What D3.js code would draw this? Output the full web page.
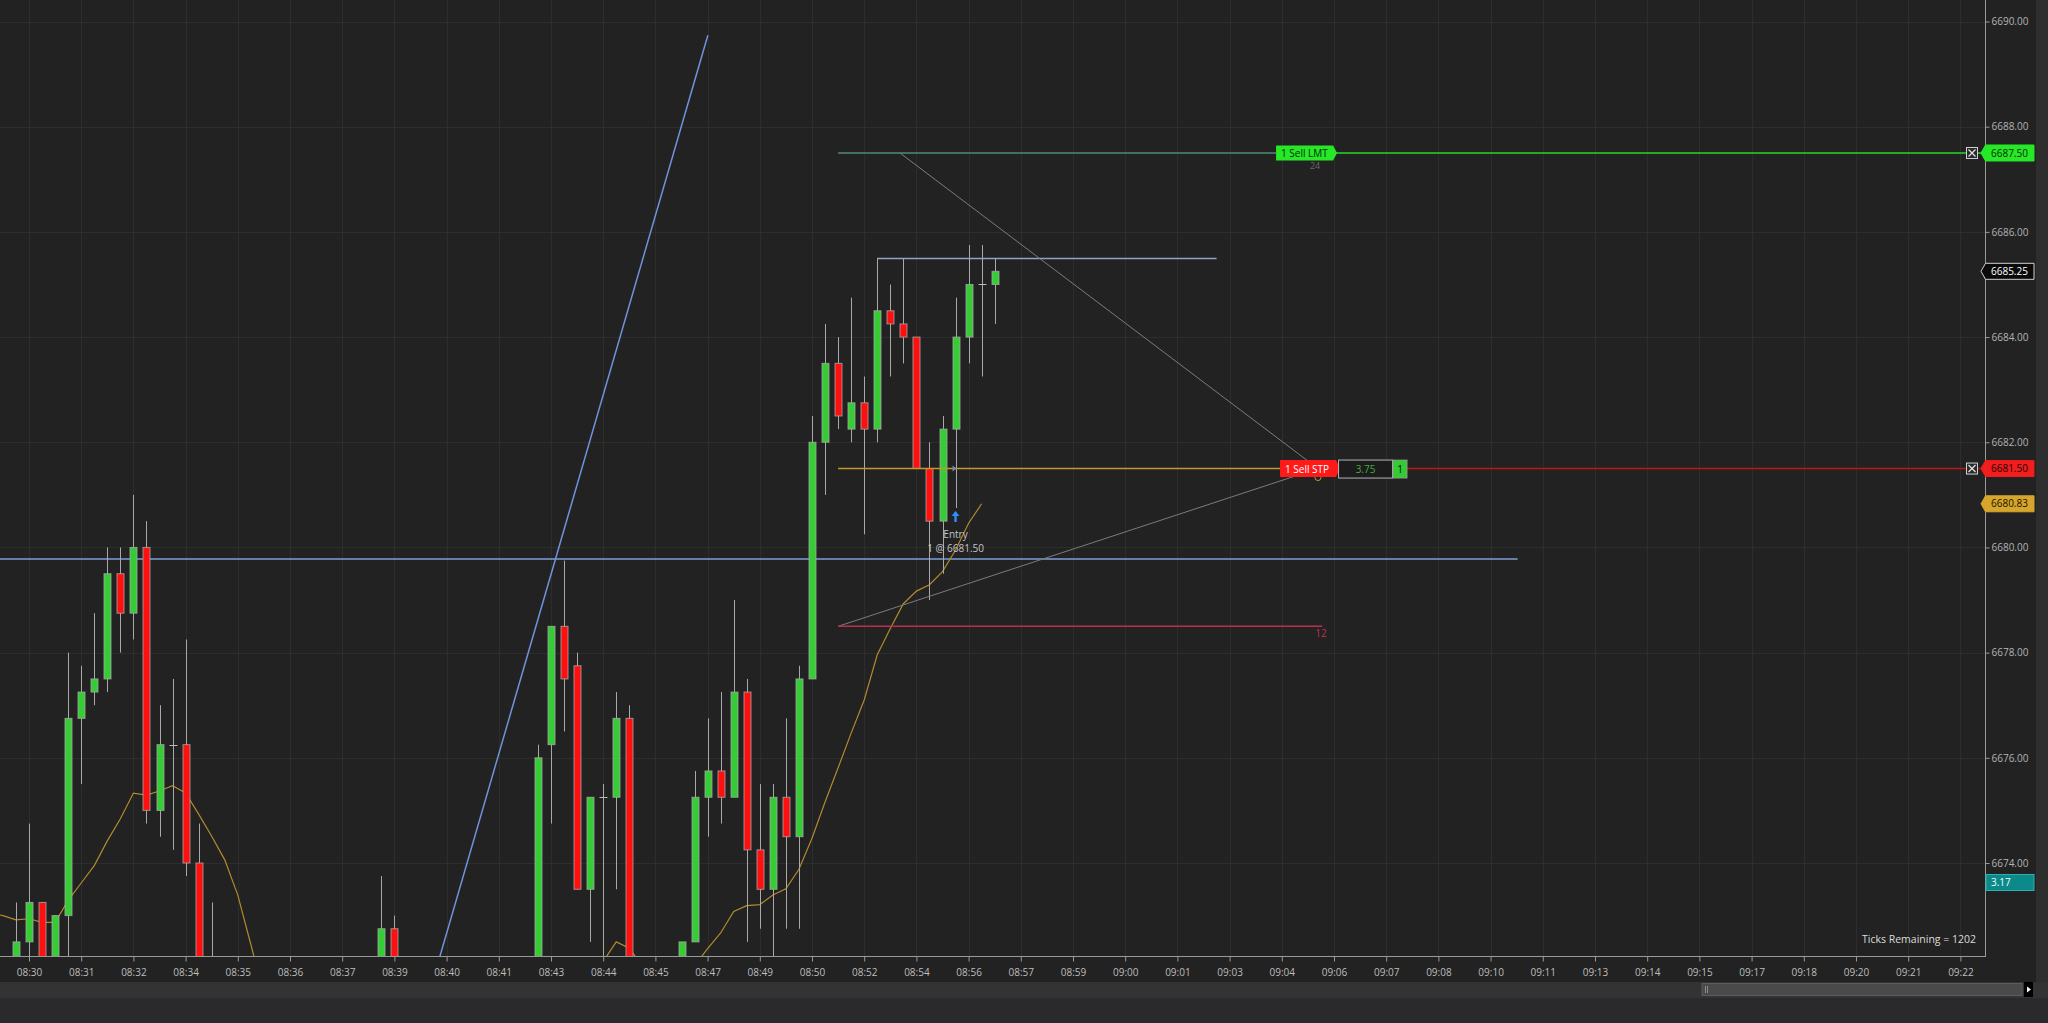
<!DOCTYPE html>
<html><head><meta charset="utf-8">
<script src="https://cdn.jsdelivr.net/npm/d3@7"></script>
<style>html,body{margin:0;padding:0;background:#2a2a2d;overflow:hidden}</style>
</head><body>
<svg id="c" width="2048" height="1023"></svg>
<script>
// ---------- DATA ----------
const tickLabels = ["08:30","08:31","08:32","08:34","08:35","08:36","08:37","08:39","08:40","08:41","08:43","08:44","08:45","08:47","08:49","08:50","08:52","08:54","08:56","08:57","08:59","09:00","09:01","09:03","09:04","09:06","09:07","09:08","09:10","09:11","09:13","09:14","09:15","09:17","09:18","09:20","09:21","09:22"];
const priceTicks = [6674,6676,6678,6680,6682,6684,6686,6688,6690];
const N = null;
const barStart = -1; // bar index of first entry
const opens = [6672.00,6672.50,6673.25,6671.75,6673.00,6676.75,6677.25,6677.50,6679.50,6678.75,6680.00,6675.00,6676.25,6676.25,6674.00,6672.00,
  N,N,N,N,N,N,N,N,N,N,N,N,
  6672.00,6672.75,
  N,N,N,N,N,N,N,N,N,N,
  6671.75,6676.25,6678.50,6677.75,6673.50,6675.25,6675.25,6676.75,
  N,N,N,
  6671.75,6672.50,6675.25,6675.75,6675.25,6677.25,6674.25,6673.50,6675.25,6674.50,6677.50,
  6682.00,6683.50,6682.25,6682.75,6682.25,6684.50,6684.25,6684.00,6681.50,6680.50,6682.25,6684.00,6685.00,6685.00];
const highs = [6673.25,6674.75,6673.25,6673.00,6678.00,6677.75,6678.75,6680.00,6680.00,6681.00,6680.50,6677.00,6677.50,6678.25,6674.75,6673.25,
  N,N,N,N,N,N,N,N,N,N,N,N,
  6673.75,6673.00,
  N,N,N,N,N,N,N,N,N,N,
  6676.25,6678.50,6679.75,6678.00,6675.25,6675.50,6677.25,6677.00,
  N,N,N,
  6672.50,6675.75,6676.75,6677.25,6679.00,6677.50,6675.50,6675.50,6676.75,6677.75,6682.50,
  6684.25,6684.00,6684.75,6683.25,6685.50,6685.00,6685.50,6684.00,6682.00,6682.50,6684.75,6685.75,6685.75,6685.50];
const lows = [6671.50,6672.00,6671.50,6671.50,6671.75,6675.50,6677.00,6677.25,6678.00,6678.25,6674.75,6674.50,6674.25,6673.75,6671.50,6671.25,
  N,N,N,N,N,N,N,N,N,N,N,N,
  6671.75,6671.50,
  N,N,N,N,N,N,N,N,N,N,
  6671.50,6674.75,6676.50,6673.50,6672.50,6671.75,6673.50,6671.50,
  N,N,N,
  6671.50,6672.50,6674.50,6674.75,6675.25,6672.50,6672.75,6672.00,6672.75,6672.75,6677.50,
  6681.00,6682.25,6682.00,6680.25,6682.00,6683.25,6683.50,6681.50,6679.00,6679.50,6680.75,6683.50,6683.25,6684.25];
const closes = [6672.50,6673.25,6671.75,6673.00,6676.75,6677.25,6677.50,6679.50,6678.75,6680.00,6675.00,6676.25,6676.25,6674.00,6671.75,6671.50,
  N,N,N,N,N,N,N,N,N,N,N,N,
  6672.75,6671.75,
  N,N,N,N,N,N,N,N,N,N,
  6676.00,6678.50,6677.50,6673.50,6675.25,6675.25,6676.75,6671.75,
  N,N,N,
  6672.50,6675.25,6675.75,6675.25,6677.25,6674.25,6673.50,6675.25,6674.50,6677.50,6682.00,
  6683.50,6682.50,6682.75,6682.25,6684.50,6684.25,6684.00,6681.50,6680.50,6682.25,6684.00,6685.00,6685.00,6685.25];
const smaStart = -3;
const smaValues = [6673.05,6673.00,6672.92,6672.94,6672.87,6672.87,6673.29,6673.62,6673.95,6674.42,6674.84,6675.33,6675.29,6675.37,6675.47,6675.33,6674.93,6674.51,6674.06,6673.39,6672.45,6671.50,
  N,N,N,N,N,N,N,N,N,N,N,N,N,N,N,N,N,N,N,N,N,N,N,N,
  6671.90,6672.13,6672.50,6672.38,6672.04,
  N,N,
  6671.80,6672.05,6672.37,6672.67,6673.08,6673.19,6673.21,6673.39,6673.51,6673.88,6674.47,6675.16,6675.81,6676.47,6677.10,6677.96,6678.46,6678.93,6679.17,6679.29,6679.54,6679.95,6680.46,6680.83];

// drawing objects (bar index, price)
const blueLevel = {price: 6679.78, from: -3, to: 114.07};
const blueRay = [[31.47, 6672.21],[52.02, 6689.74]];
const swingHigh = {price: 6685.50, from: 65, to: 91};
const targetPrice = 6687.50, stopPrice = 6681.50, riskPrice = 6678.50;
const orderLineStart = 62;
const riskLineEnd = 99.1;
const triangleUpper = [[66.74, 6687.50],[98.77, 6681.50]];
const triangleLower = [[62.0, 6678.50],[98.77, 6681.50]];
const orderLabelIdx = 95.56;
const entryBar = 71;
const entryPrice = 6681.50;
const lastPrice = 6685.25, smaLast = 6680.83;
const pnlValue = "3.75", positionQty = "1", riskTicks = "12", targetTicks = "24";
const rangeValue = "3.17";
const ticksRemaining = 1202;

// ---------- CHART ----------
const W = 2048, H = 1023, plotRight = 1985, plotBottom = 956;
const font = "'Open Sans','Noto Sans',sans-serif";
const svg = d3.select("#c");
const x = d3.scaleLinear().domain([0, 148]).range([29, 1960.4]);
const y = d3.scaleLinear().domain([6674, 6690]).range([863, 21.5]);
const px = v => Math.round(v) + 0.5;

svg.append("rect").attr("width", W).attr("height", H).attr("fill", "#2a2a2d");
svg.append("rect").attr("x", 0).attr("y", 0).attr("width", 2036).attr("height", 982).attr("fill", "#222222");
svg.append("rect").attr("x", 2036).attr("y", 0).attr("width", 12).attr("height", 982).attr("fill", "#2e2e2e");
svg.append("rect").attr("x", 0).attr("y", 982).attr("width", W).attr("height", 16).attr("fill", "#333333");

// grid
const tickIdx = tickLabels.map((d, i) => i * 4);
svg.append("g").selectAll("line").data(tickIdx).join("line")
  .attr("x1", d => px(x(d))).attr("x2", d => px(x(d))).attr("y1", 0).attr("y2", plotBottom)
  .attr("stroke", "#2d2d2d").attr("stroke-width", 1);
svg.append("g").selectAll("line").data(priceTicks).join("line")
  .attr("x1", 0).attr("x2", plotRight).attr("y1", d => px(y(d))).attr("y2", d => px(y(d)))
  .attr("stroke", "#2d2d2d").attr("stroke-width", 1);

svg.append("defs").append("clipPath").attr("id", "plot")
  .append("rect").attr("x", 0).attr("y", 0).attr("width", plotRight).attr("height", plotBottom);
const g = svg.append("g").attr("clip-path", "url(#plot)");

// blue level + ray
g.append("line").attr("x1", x(blueLevel.from)).attr("x2", x(blueLevel.to))
  .attr("y1", y(blueLevel.price)).attr("y2", y(blueLevel.price))
  .attr("stroke", "#7d9fd8").attr("stroke-width", 1.5);
g.append("line").attr("x1", x(blueRay[0][0])).attr("y1", y(blueRay[0][1]))
  .attr("x2", x(blueRay[1][0])).attr("y2", y(blueRay[1][1]))
  .attr("stroke", "#6f93dc").attr("stroke-width", 1.5);

// SMA
const smaData = smaValues.map((v, i) => ({i: smaStart + i, v}));
g.append("path").datum(smaData)
  .attr("d", d3.line().defined(d => d.v !== null).x(d => x(d.i)).y(d => y(d.v)))
  .attr("fill", "none").attr("stroke", "#b08a2e").attr("stroke-width", 1.2);

// candles
const bars = opens.map((o, i) => ({i: barStart + i, o, h: highs[i], l: lows[i], c: closes[i]})).filter(d => d.o !== null);
const cg = g.append("g");
bars.forEach(d => {
  const cx = px(x(d.i));
  cg.append("line").attr("x1", cx).attr("x2", cx).attr("y1", y(d.h)).attr("y2", y(d.l))
    .attr("stroke", "#a9a9a9").attr("stroke-width", 1);
  if (d.o === d.c) {
    cg.append("line").attr("x1", cx - 4).attr("x2", cx + 4).attr("y1", px(y(d.o))).attr("y2", px(y(d.o)))
      .attr("stroke", "#bdbdbd").attr("stroke-width", 1);
  } else {
    const top = y(Math.max(d.o, d.c)), bot = y(Math.min(d.o, d.c));
    cg.append("rect").attr("x", cx - 3.5).attr("width", 7).attr("y", top).attr("height", bot - top)
      .attr("fill", d.c > d.o ? "#36cc36" : "#ff1010")
      .attr("stroke", "#a8a8a8").attr("stroke-opacity", 0.8).attr("stroke-width", 1);
  }
});

// swing high line
g.append("line").attr("x1", x(swingHigh.from)).attr("x2", x(swingHigh.to))
  .attr("y1", px(y(swingHigh.price))).attr("y2", px(y(swingHigh.price)))
  .attr("stroke", "#8fa6c8").attr("stroke-width", 1.3);

// triangle lines
[triangleUpper, triangleLower].forEach(seg => {
  g.append("line").attr("x1", x(seg[0][0])).attr("y1", y(seg[0][1]))
    .attr("x2", x(seg[1][0])).attr("y2", y(seg[1][1]))
    .attr("stroke", "#7c7c7c").attr("stroke-width", 1);
});

// order lines
const labelX = x(orderLabelIdx);
g.append("line").attr("x1", x(orderLineStart)).attr("x2", labelX)
  .attr("y1", y(targetPrice)).attr("y2", y(targetPrice)).attr("stroke", "#4f8c72").attr("stroke-width", 1.3);
g.append("line").attr("x1", labelX + 60).attr("x2", plotRight)
  .attr("y1", y(targetPrice)).attr("y2", y(targetPrice)).attr("stroke", "#22dd22").attr("stroke-width", 1.6);
g.append("line").attr("x1", x(orderLineStart)).attr("x2", labelX + 4)
  .attr("y1", y(stopPrice)).attr("y2", y(stopPrice)).attr("stroke", "#c8962e").attr("stroke-width", 1.5);
g.append("line").attr("x1", labelX + 130).attr("x2", plotRight)
  .attr("y1", y(stopPrice)).attr("y2", y(stopPrice)).attr("stroke", "#c41414").attr("stroke-width", 1.4);
g.append("line").attr("x1", x(orderLineStart)).attr("x2", x(riskLineEnd))
  .attr("y1", y(riskPrice)).attr("y2", y(riskPrice)).attr("stroke", "#b8304e").attr("stroke-width", 1.5);
g.append("text").attr("x", x(riskLineEnd) - 7).attr("y", y(riskPrice) + 11)
  .attr("fill", "#c0304e").attr("font-family", font).attr("font-size", 10).text(riskTicks);
g.append("circle").attr("cx", x(triangleUpper[1][0])).attr("cy", y(stopPrice) + 9).attr("r", 3)
  .attr("fill", "none").attr("stroke", "#c8962e").attr("stroke-width", 1);

// target ticks text (just under the label)
g.append("text").attr("x", labelX + 39).attr("y", y(targetPrice) + 16).attr("text-anchor", "middle")
  .attr("fill", "#6a6a6a").attr("font-family", font).attr("font-size", 9).text(targetTicks);

// Sell LMT label
function tagPath(x0, yc, w, h) {
  return `M${x0},${yc - h / 2}H${x0 + w}L${x0 + w + 4},${yc}L${x0 + w},${yc + h / 2}H${x0}Z`;
}
g.append("path").attr("d", tagPath(labelX, y(targetPrice), 57, 15)).attr("fill", "#26e826");
g.append("text").attr("x", labelX + 5).attr("y", y(targetPrice) + 4).attr("fill", "#0a2a0a")
  .attr("font-family", font).attr("font-size", 10).text("1 Sell LMT");
// Sell STP label
const sx = labelX + 4;
g.append("path").attr("d", tagPath(sx, y(stopPrice), 56, 17)).attr("fill", "#ff1a1a");
g.append("text").attr("x", sx + 5).attr("y", y(stopPrice) + 4).attr("fill", "#ffffff")
  .attr("font-family", font).attr("font-size", 10).text("1 Sell STP");
g.append("rect").attr("x", sx + 58.5).attr("y", y(stopPrice) - 8.5).attr("width", 54).attr("height", 18)
  .attr("fill", "#1c1c1c").attr("stroke", "#b5b5b5").attr("stroke-width", 1);
g.append("text").attr("x", sx + 85.5).attr("y", y(stopPrice) + 4).attr("text-anchor", "middle")
  .attr("fill", "#3fae3f").attr("font-family", font).attr("font-size", 10).text(pnlValue);
g.append("rect").attr("x", sx + 113).attr("y", y(stopPrice) - 8.5).attr("width", 14).attr("height", 18)
  .attr("fill", "#33cc33").attr("stroke", "#9a9a9a").attr("stroke-width", 0.8);
g.append("text").attr("x", sx + 120).attr("y", y(stopPrice) + 4).attr("text-anchor", "middle")
  .attr("fill", "#0a0a0a").attr("font-family", font).attr("font-size", 10).text(positionQty);

// close boxes (X)
[targetPrice, stopPrice].forEach(p => {
  const cx = 1972, cy = y(p);
  const b = g.append("g");
  b.append("rect").attr("x", cx - 5.5).attr("y", cy - 5.5).attr("width", 11).attr("height", 11)
    .attr("fill", "#2a2a2a").attr("stroke", "#cfcfcf").attr("stroke-width", 1);
  b.append("path").attr("d", `M${cx - 3.5},${cy - 3.5}L${cx + 3.5},${cy + 3.5}M${cx + 3.5},${cy - 3.5}L${cx - 3.5},${cy + 3.5}`)
    .attr("stroke", "#e0e0e0").attr("stroke-width", 1.3);
});

// entry marker
const ex = x(entryBar);
const ey = y(lows[entryBar - barStart]) + 3;
g.append("path").attr("d", `M${ex},${ey}L${ex + 4},${ey + 5}L${ex + 1.2},${ey + 5}L${ex + 1.2},${ey + 11}L${ex - 1.2},${ey + 11}L${ex - 1.2},${ey + 5}L${ex - 4},${ey + 5}Z`)
  .attr("fill", "#2f8fff");
g.append("path").attr("d", `M${ex - 3},${y(entryPrice) - 3}L${ex + 1},${y(entryPrice)}L${ex - 3},${y(entryPrice) + 3}Z`)
  .attr("fill", "#6f8fa8");
g.append("text").attr("x", ex).attr("y", ey + 27).attr("text-anchor", "middle").attr("fill", "#c4c4c4")
  .attr("font-family", font).attr("font-size", 10).text("Entry");
g.append("text").attr("x", ex).attr("y", ey + 41).attr("text-anchor", "middle").attr("fill", "#c4c4c4")
  .attr("font-family", font).attr("font-size", 10).text(`1 @ ${entryPrice.toFixed(2)}`);

// ticks remaining
svg.append("text").attr("x", 1976).attr("y", 943).attr("text-anchor", "end").attr("fill", "#dcdcdc")
  .attr("font-family", font).attr("font-size", 10.5).text(`Ticks Remaining = ${ticksRemaining}`);

// axes lines
svg.append("line").attr("x1", 0).attr("x2", plotRight).attr("y1", plotBottom + 0.5).attr("y2", plotBottom + 0.5)
  .attr("stroke", "#9a9a9a").attr("stroke-width", 1);
svg.append("line").attr("x1", plotRight + 0.5).attr("x2", plotRight + 0.5).attr("y1", 0).attr("y2", plotBottom + 1)
  .attr("stroke", "#9a9a9a").attr("stroke-width", 1);

// x axis
const xAxis = d3.axisBottom(x).tickValues(tickIdx).tickFormat((d, i) => tickLabels[i]).tickSize(5).tickPadding(7);
const xg = svg.append("g").attr("transform", `translate(0,${plotBottom + 0.5})`).call(xAxis);
xg.select(".domain").remove();
xg.selectAll("line").attr("stroke", "#9a9a9a");
xg.selectAll("text").attr("fill", "#bdbdbd").attr("font-family", font).attr("font-size", 10);

// y axis
const yAxis = d3.axisRight(y).tickValues(priceTicks).tickFormat(d => d.toFixed(2)).tickSize(4).tickPadding(2);
const yg = svg.append("g").attr("transform", `translate(${plotRight + 0.5},0)`).call(yAxis);
yg.select(".domain").remove();
yg.selectAll("line").attr("stroke", "#9a9a9a");
yg.selectAll("text").attr("fill", "#b4b4b4").attr("font-family", font).attr("font-size", 10);

// right price tags
const tags = [
  {p: targetPrice, fill: "#26e826", stroke: "#26e826", text: "#0a2a0a"},
  {p: lastPrice, fill: "#0a0a0a", stroke: "#d0d0d0", text: "#ffffff"},
  {p: stopPrice, fill: "#f21d1d", stroke: "#f21d1d", text: "#1a0000"},
  {p: smaLast, fill: "#d6a52c", stroke: "#d6a52c", text: "#1a1200"}
];
tags.forEach(t => {
  const yc = y(t.p);
  svg.append("path").attr("d", `M1981,${yc}L1985.5,${yc - 8}H2034V${yc + 8}H1985.5Z`)
    .attr("fill", t.fill).attr("stroke", t.stroke).attr("stroke-width", 1);
  svg.append("text").attr("x", 1991).attr("y", yc + 3.6).attr("fill", t.text)
    .attr("font-family", font).attr("font-size", 10).text(t.p.toFixed(2));
});
svg.append("rect").attr("x", 1986).attr("y", 874.5).attr("width", 48).attr("height", 16)
  .attr("fill", "#0c8a8a").attr("stroke", "#2fb0b0").attr("stroke-width", 1);
svg.append("text").attr("x", 1991).attr("y", 886).attr("fill", "#e8ffff")
  .attr("font-family", font).attr("font-size", 10).text(rangeValue);

// scrollbar
svg.append("rect").attr("x", 1702).attr("y", 983.5).attr("width", 320).attr("height", 12)
  .attr("fill", "#4a4a4a").attr("stroke", "#5c5c5c").attr("stroke-width", 1);
svg.append("line").attr("x1", 1705.5).attr("x2", 1705.5).attr("y1", 986).attr("y2", 993).attr("stroke", "#8a8a8a");
svg.append("line").attr("x1", 1707.5).attr("x2", 1707.5).attr("y1", 986).attr("y2", 993).attr("stroke", "#8a8a8a");
svg.append("rect").attr("x", 2024).attr("y", 982).attr("width", 9).attr("height", 15).attr("fill", "#000");
svg.append("path").attr("d", "M2027,986.5L2031,989.5L2027,992.5Z").attr("fill", "#fff");
</script>
</body></html>
